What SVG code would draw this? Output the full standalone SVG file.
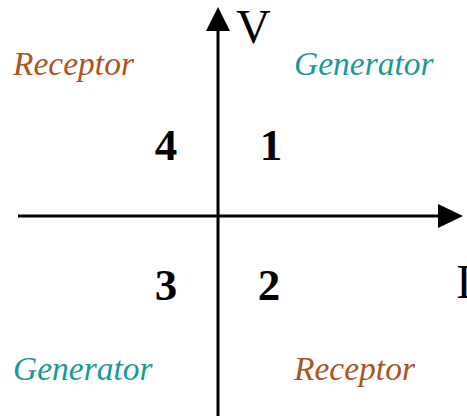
<svg xmlns="http://www.w3.org/2000/svg" width="467" height="416" viewBox="0 0 467 416">
<style>
.ax{stroke:#000;stroke-width:3;fill:none}
.lbl{font-family:"Liberation Serif",serif;font-style:italic;font-size:33.5px}
.rec{fill:#b0521e}
.gen{fill:#1a9a94}
.num{font-family:"Liberation Serif",serif;font-weight:bold;font-size:45px;fill:#000;text-anchor:middle}
.axl{font-family:"Liberation Serif",serif;font-size:48px;fill:#000}
</style>
<g id="axes">
<line class="ax" x1="218" y1="416" x2="218" y2="28"/>
<polygon points="218,7 206,31 230,31" fill="#000"/>
<line class="ax" x1="18" y1="216" x2="440" y2="216"/>
<polygon points="463,216 438,204 438,228" fill="#000"/>
</g>
<g id="axis-labels">
<text class="axl" x="236" y="43">V</text>
<text class="axl" x="456" y="298">I</text>
</g>
<g id="q1"><text class="num" x="271" y="160">1</text></g>
<g id="q2"><text class="num" x="269" y="300">2</text></g>
<g id="q3"><text class="num" x="166" y="300">3</text></g>
<g id="q4"><text class="num" x="166" y="160">4</text></g>
<g id="labels">
<text class="lbl rec" x="13" y="75">Receptor</text>
<text class="lbl gen" x="294" y="75">Generator</text>
<text class="lbl gen" x="13" y="380">Generator</text>
<text class="lbl rec" x="294" y="380">Receptor</text>
</g>
</svg>
